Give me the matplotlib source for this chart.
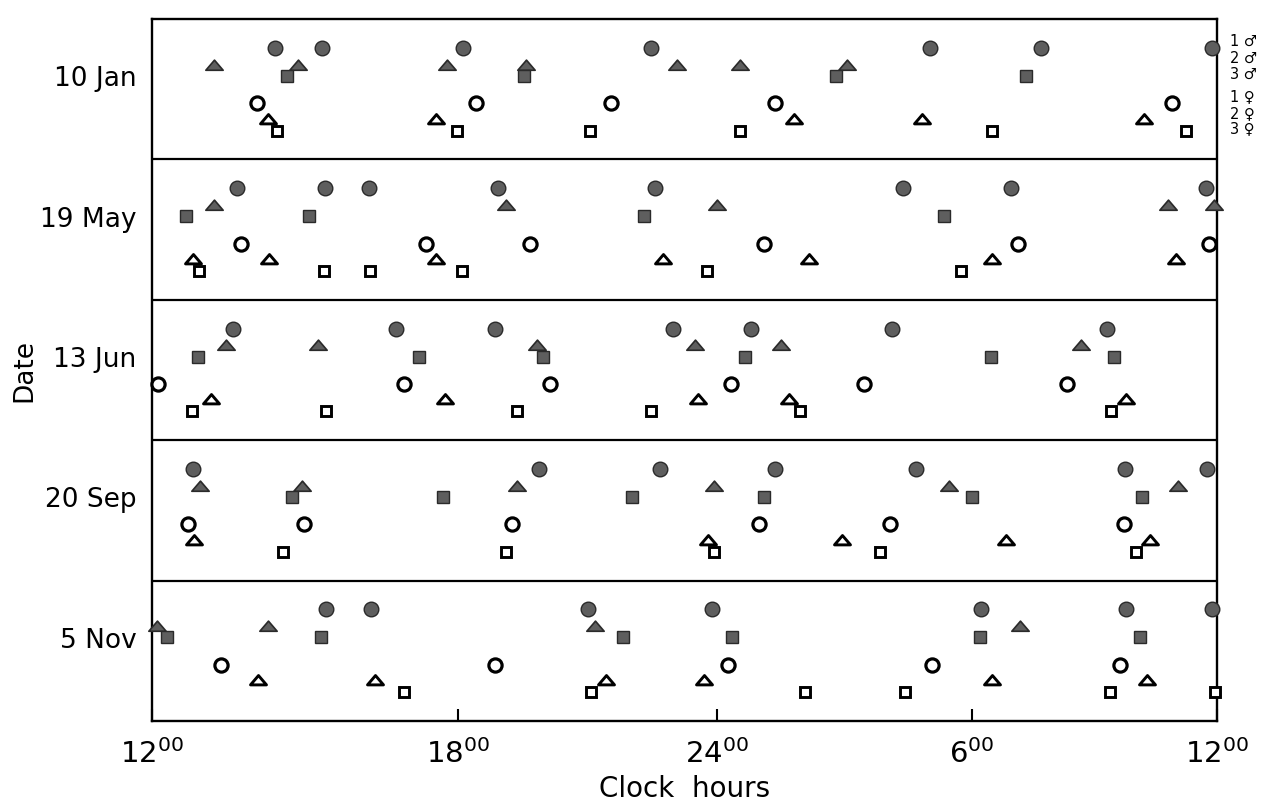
import numpy as np
import matplotlib.pyplot as plt
from matplotlib.path import Path

# times in hours; 12 = noon, 24 = midnight, 36 = noon of the next day
dates = ['10 Jan', '19 May', '13 Jun', '20 Sep', '5 Nov']
animals = ['1 ♂', '2 ♂', '3 ♂', '1 ♀', '2 ♀', '3 ♀']
tick_hours = [12, 18, 24, 30, 36]
tick_names = ['12', '18', '24', '6', '12']

# one list per date (same order as dates)
male1 = [
    [14.41, 15.33, 18.12, 22.47, 29.01, 31.69, 35.88],
    [13.67, 15.39, 16.25, 18.93, 22.56, 28.37, 30.96, 35.73],
    [13.59, 16.78, 18.86, 22.96, 24.80, 28.11, 33.31],
    [12.80, 19.88, 22.68, 25.37, 28.68, 33.75, 35.76],
    [15.41, 16.29, 21.01, 23.88, 30.22, 33.77, 35.88],
]
male2 = [
    [13.22, 14.86, 17.78, 19.58, 23.07, 24.54, 27.05],
    [13.22, 19.11, 23.98, 34.80, 35.93],
    [13.45, 15.25, 19.83, 23.49, 25.51, 32.67],
    [12.94, 14.94, 19.37, 23.91, 29.46, 35.05],
    [12.10, 14.27, 21.17, 31.18],
]
male3 = [
    [14.65, 19.53, 26.81, 31.32],
    [12.67, 15.08, 22.31, 29.34],
    [12.90, 17.24, 19.97, 24.64, 30.47, 33.48],
    [14.75, 17.71, 22.03, 25.09, 30.00, 34.16],
    [12.29, 15.31, 21.82, 24.35, 30.20, 34.11],
]
female1 = [
    [14.06, 18.42, 21.54, 25.37, 34.90],
    [13.75, 17.37, 19.67, 25.09, 31.13, 35.80],
    [12.12, 16.94, 20.13, 24.31, 27.45, 32.33],
    [12.71, 14.98, 19.25, 24.99, 28.08, 33.72],
    [13.35, 18.86, 24.24, 29.06, 33.62],
]
female2 = [
    [14.27, 17.57, 25.80, 28.82, 34.21],
    [12.80, 14.29, 17.57, 22.73, 26.15, 30.51, 35.00],
    [13.16, 17.75, 23.54, 25.70, 33.77],
    [12.82, 23.79, 26.95, 30.83, 34.36],
    [14.08, 16.37, 21.43, 23.70, 30.51, 34.29],
]
female3 = [
    [14.45, 17.98, 21.06, 24.54, 30.51, 35.24],
    [12.92, 15.37, 16.27, 18.09, 23.75, 29.74],
    [12.78, 15.41, 19.37, 22.47, 25.94, 33.40],
    [14.57, 19.11, 23.91, 27.83, 34.02],
    [16.94, 21.08, 26.06, 28.42, 33.38, 35.95],
]

# the printed time axis is not evenly spaced (first 6 h are wider)
knot_h = np.array([12, 18, 24, 30, 36], dtype=float)
knot_p = np.array([0, 306, 565, 819, 1064], dtype=float)


def fwd(h):
    h = np.asarray(h, dtype=float)
    out = np.interp(h, knot_h, knot_p)
    out = np.where(h < 12, (h - 12) * 51.0, out)
    out = np.where(h > 36, 1064 + (h - 36) * 40.8, out)
    return out


def inv(p):
    p = np.asarray(p, dtype=float)
    out = np.interp(p, knot_p, knot_h)
    out = np.where(p < 0, 12 + p / 51.0, out)
    out = np.where(p > 1064, 36 + (p - 1064) / 40.8, out)
    return out


flat_tri = Path([(-1, -0.55), (1, -0.55), (0, 0.62), (-1, -0.55)],
                [Path.MOVETO, Path.LINETO, Path.LINETO, Path.CLOSEPOLY])

grey = '#5e5e5e'
# (data, marker, size, face, edge, edge width, level from band top)
series = [
    (male1, 'o', 10.5, grey, '#2a2a2a', 1.0, 0.205),
    (male2, flat_tri, 12.5, grey, '#2a2a2a', 1.2, 0.325),
    (male3, 's', 8.5, grey, '#2a2a2a', 1.0, 0.405),
    (female1, 'o', 9.5, 'white', 'black', 2.3, 0.60),
    (female2, flat_tri, 11.5, 'white', 'black', 2.1, 0.71),
    (female3, 's', 7.5, 'white', 'black', 2.1, 0.795),
]

fig = plt.figure(figsize=(12.61, 8.03), dpi=100)
ax = fig.add_axes([0.1205, 0.1009, 0.8445, 0.8742])
ax.set_xscale('function', functions=(fwd, inv))

n = len(dates)
for data, mk, ms, fc, ec, mew, level in series:
    for i, times in enumerate(data):
        ax.plot(times, np.full(len(times), n - i - level), linestyle='none',
                marker=mk, markersize=ms, markerfacecolor=fc,
                markeredgecolor=ec, markeredgewidth=mew, clip_on=False,
                zorder=3)

for k in range(1, n):
    ax.axhline(k, color='black', lw=1.6)

ax.set_xlim(12, 36)
ax.set_ylim(0, n)
ax.set_xticks(tick_hours)
ax.set_xticklabels([r'$\mathregular{%s^{00}}$' % t for t in tick_names],
                   fontsize=21)
ax.tick_params(axis='x', direction='in', length=9, width=1.5, pad=12)
ax.set_yticks([n - i - 0.4 for i in range(n)])
ax.set_yticklabels(dates, fontsize=19)
ax.tick_params(axis='y', length=0, pad=11)
for s in ax.spines.values():
    s.set_linewidth(1.7)

ax.set_xlabel('Clock  hours', fontsize=20, labelpad=5)
ax.set_ylabel('Date', fontsize=19, labelpad=2)

leg_y = [41, 58, 74, 97, 114, 129]
for name, y in zip(animals, leg_y):
    fig.text(0.9755, 1 - y / 803, name, fontsize=10.5, va='center',
             ha='left')

fig.savefig('out.png', dpi=100)
